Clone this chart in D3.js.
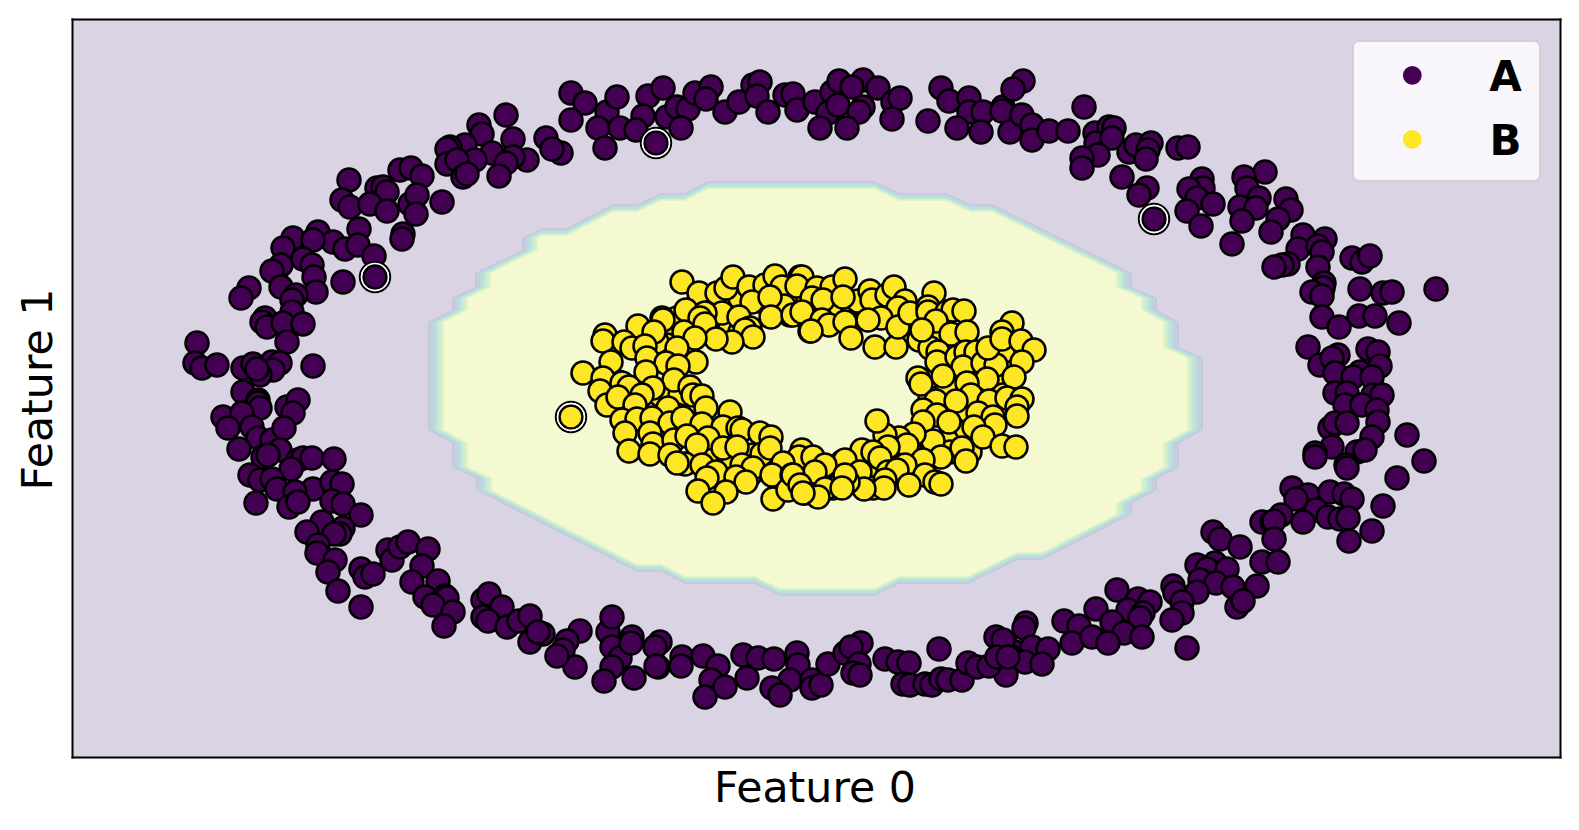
<!DOCTYPE html>
<html><head><meta charset="utf-8">
<style>html,body{margin:0;padding:0;background:#fff}svg{display:block}text{font-family:"DejaVu Sans",sans-serif}</style>
<script src="https://cdn.jsdelivr.net/npm/d3@7"></script></head>
<body><svg id="chart" width="1579" height="830"></svg>
<script>
const xLabel = "Feature 0", yLabel = "Feature 1";
const legendLabels = ["A", "B"];
const classA = [
[-245,295],[-231,285],[-209,276],[-245,268],[-218,260],[-211,240],[-199,291],[-196,260],[-310,273],[-337,263],[-334,254],[-303,249],[-270,250],[-255,235],[-264,239],[-289,228],[-303,231],[-324,235],[-310,225],[-351,243],[-366,241],[-369,239],[-341,228],[-369,224],[-359,228],[-353,211],[-349,214],[-317,212],[-416,218],[-405,220],[-394,212],[-467,208],[-439,200],[-433,201],[-429,196],[-474,188],[-466,181],[-446,184],[-429,177],[-406,184],[-399,193],[-400,174],[-374,186],[-413,154],[-414,149],[-457,159],[-498,156],[-483,146],[-471,139],[-458,143],[-523,150],[-533,140],[-503,148],[-513,129],[-504,123],[-442,132],[-535,123],[-544,117],[-502,111],[-500,96],[-473,106],[-441,111],[-567,100],[-575,90],[-535,101],[-520,93],[-524,88],[-524,76],[-551,70],[-554,66],[-549,61],[-533,65],[-513,64],[-529,46],[-619,45],[-621,25],[-614,20],[-599,23],[-573,20],[-563,24],[-544,26],[-536,25],[-543,18],[-556,13],[-559,19],[-503,22],[-573,-4],[-558,-12],[-529,-19],[-518,-12],
[-168,292],[-153,300],[-173,272],[-180,258],[-160,245],[-149,271],[-139,281],[-128,279],[-135,260],[-121,295],[-105,301],[-110,289],[-91,276],[-77,286],[-63,303],[-56,306],[-59,292],[-48,276],[-31,293],[-23,294],[-19,278],[-1,286],[16,296],[23,307],[47,308],[36,301],[62,300],[12,275],[22,283],[47,281],[43,276],[4,260],[31,260],[77,286],[84,290],[76,269],[112,267],[125,300],[133,287],[153,290],[153,276],[141,260],[167,276],[165,256],[187,281],[186,277],[194,256],
[207,307],[197,299],[206,273],[216,263],[216,248],[233,257],[252,257],[268,281],[279,255],[293,261],[298,260],[280,245],[296,250],[282,233],[266,230],[266,220],[306,211],[313,236],[320,243],[335,245],[332,238],[330,229],[362,240],[372,241],[331,200],[323,193],[338,169],[386,209],[387,200],[373,199],[381,190],[397,184],[371,177],[385,162],[449,216],[428,211],[431,200],[443,190],[424,181],[440,180],[426,167],[470,189],[475,178],[462,169],[455,156],[416,144],[487,153],[509,149],[482,139],[502,142],[506,136],[536,130],[546,126],[554,132],[472,124],[466,123],[458,121],[502,121],[508,105],[507,100],[496,96],[506,92],[544,99],[567,95],[576,96],[620,99],[506,71],[523,61],[543,72],[559,72],[583,65],[492,41],[522,33],[504,23],[516,30],[552,39],[562,36],[519,15],[564,22],[544,16],[537,11],[556,11],[519,-5],[531,-5],[557,-7],[566,-7],
[529,-17],[546,-17],[561,-22],[562,-34],[514,-40],[519,-35],[531,-35],[556,-49],[591,-47],[516,-59],[541,-64],[549,-62],[499,-65],[499,-69],[530,-77],[531,-80],[608,-73],[581,-90],[476,-100],[492,-107],[480,-111],[514,-104],[528,-106],[536,-111],[567,-118],[500,-122],[487,-134],[512,-129],[524,-131],[532,-130],[556,-143],[533,-153],[465,-127],[446,-134],[456,-134],[458,-133],[458,-151],[446,-174],[462,-174],[397,-144],[404,-151],[424,-159],[381,-177],[399,-175],[391,-181],[411,-181],[384,-192],[400,-195],[381,-204],[417,-199],[441,-198],[421,-219],[427,-213],[357,-198],[359,-205],[366,-214],[366,-225],[356,-232],[371,-260],[301,-202],[322,-211],[334,-214],[312,-222],[327,-225],[324,-230],[280,-221],[296,-234],[308,-245],[326,-249],[248,-233],[263,-238],[256,-255],[276,-249],[292,-255],[210,-235],[208,-240],[189,-255],[199,-264],[216,-259],[196,-269],[209,-274],[232,-261],[226,-276],[190,-287],
[-236,-243],[-249,-253],[-253,-262],[-241,-279],[-208,-244],[-204,-229],[-204,-259],[-196,-270],[-204,-279],[-212,-293],[-184,-249],[-185,-255],[-182,-290],[-156,-254],[-161,-259],[-158,-279],[-160,-278],[-134,-269],[-135,-278],[-113,-268],[-98,-278],[-105,-292],[-91,-299],[-111,-309],[-73,-267],[-58,-270],[-42,-271],[-69,-290],[-19,-265],[-18,-277],[-26,-292],[-44,-300],[-36,-307],[-4,-292],[-4,-300],[5,-297],[12,-276],[29,-265],[45,-255],[35,-259],[43,-276],[37,-285],[44,-287],[69,-271],[82,-274],[93,-275],[123,-261],[87,-296],[94,-297],[109,-296],[116,-297],[125,-291],[132,-292],[146,-292],[152,-275],[161,-279],[173,-278],[180,-249],[187,-252],[181,-269],[192,-269],
[-558,-15],[-556,-20],[-593,-29],[-574,-25],[-588,-40],[-564,-39],[-558,-50],[-544,-52],[-523,-25],[-532,-40],[-577,-61],[-536,-62],[-553,-69],[-548,-67],[-518,-72],[-513,-70],[-504,-70],[-525,-81],[-482,-71],[-566,-87],[-556,-92],[-544,-91],[-539,-101],[-503,-101],[-521,-104],[-484,-94],[-474,-96],[-484,-113],[-473,-116],[-527,-119],[-518,-114],[-560,-115],[-455,-127],[-494,-134],[-473,-140],[-476,-146],[-482,-146],[-509,-144],[-498,-157],[-499,-165],[-481,-172],[-488,-184],[-478,-203],[-455,-219],[-455,-181],[-451,-189],[-443,-186],[-428,-162],[-424,-172],[-416,-159],[-408,-154],[-388,-161],[-394,-178],[-404,-194],[-378,-193],[-391,-209],[-371,-208],[-369,-210],[-383,-217],[-363,-224],[-372,-238],[-333,-212],[-327,-206],[-314,-219],[-333,-229],[-328,-233],[-309,-239],[-297,-233],[-286,-228],[-286,-254],[-273,-246],[-278,-244],[-259,-268]
];
const classBHidden = [
[-186,43],[-169,33],[-198,6],[-203,-7],[-189,-17],[-183,-7],[-156,-7],[-136,-7],[-139,-27],[-156,-40],[-119,-44],[-133,-44],[-99,-47],[-84,-37],[-89,-54],[-109,-67],[-86,-80],[-63,-67],[-66,-87],[-39,-80],[-36,-97],[-19,-74],[-106,90],[-86,90],[-76,90],[-53,86],[-59,96],[-33,90],[-123,66],[-126,73],[-106,63],[-86,63],[-76,56],[-26,73],[-16,86],[-146,63],[-139,70],[-133,40],[-149,43],[-169,46],[-159,46],[-183,43],
[-16,90],[17,96],[17,83],[37,80],[47,83],[71,80],[61,83],[94,53],[97,66],[111,63],[127,56],[147,46],[167,33],[131,26],[157,20],[181,10],[187,36],[147,0],[131,0],[161,3],[174,-4],[187,-7],[114,-10],[127,-20],[147,-27],[137,-40],[151,-44],[131,-53],[107,-60],[121,-64],[134,-64],[154,-64],[77,-67],[97,-67],[54,-74],[41,-70],[17,-84],[7,-87],[-13,-80],[-6,-94],[37,-94],[57,-87],[87,-87],[57,-100],[17,-100]
];
const classB = [
[-134,106],[-117,95],[-99,95],[-90,100],[-83,111],[-67,101],[-51,103],[-41,112],[-34,101],[-16,111],[-18,102],[-64,86],[-32,82],[-46,91],[-94,75],[-77,71],[-45,71],[-130,78],[-111,75],[-116,70],[-111,64],[-66,60],[-71,58],[-63,51],[-84,46],[-100,49],[-6,57],[-23,73],[-8,88],[-154,70],[-153,68],[-178,62],[-162,56],[-132,56],[-211,53],[-213,47],[-192,46],[-184,40],[-171,42],[-121,50],[-139,40],[-205,26],[-169,30],[-120,26],[-150,25],[-138,22],[-170,16],[-233,15],[-213,10],[-216,-3],[-194,5],[-187,1],[-142,8],[-163,0],[-174,-7],[-126,1],[-123,-7],[-114,-8],[-209,-17],[-198,-9],[-181,-17],[-148,-20],[-110,-20],[-245,-29],[-194,-32],[-179,-31],[-164,-30],[-146,-35],[-133,-30],[-86,-24],[-191,-45],[-166,-45],[-114,-36],[-93,-39],[-78,-40],[-74,-42],[-56,-45],[-45,-49],[-163,-56],[-142,-52],[-129,-48],[-108,-50],[-187,-63],[-166,-66],[-146,-67],[-119,-57],[-93,-60],[-79,-59],[-54,-66],[-46,-60],[-14,-62],[-17,-69],[-131,-76],[-139,-75],[-114,-77],[-100,-84],[-74,-77],[-63,-80],[-33,-75],[-44,-87],[-24,-87],[-80,-89],[-70,-94],[-109,-90],[-118,-103],[-90,-104],[-103,-115],[-43,-111],[-28,-102],[-11,-105],
[-14,111],[-19,102],[1,100],[16,101],[29,109],[-4,90],[7,88],[-14,76],[6,68],[13,63],[-5,57],[29,66],[35,50],[42,87],[27,91],[54,97],[56,88],[71,93],[78,101],[89,87],[82,80],[65,70],[52,68],[59,41],[80,41],[82,61],[94,75],[118,95],[112,81],[112,76],[131,76],[137,78],[148,77],[120,67],[135,54],[151,56],[103,48],[114,40],[106,58],[122,36],[121,26],[141,31],[150,36],[160,36],[147,21],[167,25],[180,23],[172,40],[196,65],[186,56],[186,49],[205,47],[218,38],[206,26],[198,11],[171,9],[127,12],[102,10],[105,4],[151,5],[155,-7],[173,-13],[191,-10],[206,-11],[201,-19],[201,-28],[120,-13],[140,-13],[107,-22],[121,-27],[162,-25],[177,-29],[179,-37],[158,-39],[133,-34],[107,-34],[167,-49],[117,-53],[98,-46],[83,-50],[69,-47],[61,-33],[186,-58],[200,-59],[146,-60],[150,-73],[125,-69],[91,-57],[72,-59],[46,-62],[57,-64],[64,-70],[107,-72],[89,-77],[26,-74],[29,-72],[-3,-69],[9,-77],[-1,-84],[44,-84],[72,-84],[81,-82],[109,-87],[119,-94],[125,-96],[93,-97],[69,-92],[68,-100],[48,-101],[32,-94],[29,-87],[9,-101],[-23,-87],[-16,-97],[2,-109],[-13,-105],[26,-100]
];
const supportVectors = [[-441,111],[-160,245],[338,169],[-245,-29]];
const boundaryOuter = [[-388,66],[-364,78],[-364,90],[-341,101],[-341,115],[-294,138],[-294,150],[-274,160],[-249,160],[-203,184],[-178,184],[-155,195],[-131,195],[-108,207],[58,207],[83,195],[130,195],[154,184],[176,184],[316,115],[316,101],[341,90],[341,78],[363,66],[363,41],[387,30],[387,-42],[363,-55],[363,-79],[341,-91],[341,-102],[316,-115],[316,-126],[226,-172],[201,-172],[152,-196],[83,-196],[59,-208],[-36,-208],[-61,-196],[-131,-196],[-154,-184],[-179,-184],[-340,-102],[-340,-90],[-364,-79],[-364,-55],[-388,-42]];
const boundaryInner = [[-372,66],[-348,78],[-348,90],[-325,101],[-325,115],[-278,138],[-278,150],[-274,152],[-249,152],[-203,176],[-178,176],[-155,187],[-131,187],[-108,199],[58,199],[83,187],[130,187],[154,176],[176,176],[300,115],[300,101],[325,90],[325,78],[347,66],[347,41],[371,30],[371,-42],[347,-55],[347,-79],[325,-91],[325,-102],[300,-115],[300,-126],[226,-164],[201,-164],[152,-188],[83,-188],[59,-200],[-36,-200],[-61,-188],[-131,-188],[-154,-176],[-179,-176],[-324,-102],[-324,-90],[-348,-79],[-348,-55],[-372,-42]];
const contourStripes = [0.2,0.3,0.42,0.54,0.65,0.75,0.85];
const contourLow = 0.1, contourHigh = 0.92;

const svg = d3.select("#chart");
const x = d3.scaleLinear([-744,744],[72,1560]);
const y = d3.scaleLinear([-369,369],[757,19]);
const onWhite = (t,a) => { const c = d3.rgb(d3.interpolateViridis(t));
  return d3.rgb(255+(c.r-255)*a,255+(c.g-255)*a,255+(c.b-255)*a).formatHex(); };
const classColor = [d3.interpolateViridis(0), d3.interpolateViridis(1)];

svg.append("rect").attr("x",x(-744)).attr("y",y(369)).attr("width",x(744)-x(-744)).attr("height",y(-369)-y(369)).attr("fill",onWhite(contourLow,.2));
const line = d3.line().x(d=>x(d[0])).y(d=>y(d[1])).curve(d3.curveLinearClosed);
const bands = contourStripes.map(t=>onWhite(t,.3)).concat([onWhite(contourHigh,.2)]);
bands.forEach((color,k)=>{
  const f = k/(bands.length-1);
  const ring = boundaryOuter.map((p,i)=>[p[0]+(boundaryInner[i][0]-p[0])*f, p[1]+(boundaryInner[i][1]-p[1])*f]);
  svg.append("path").attr("d",line(ring)).attr("fill",color).attr("shape-rendering","crispEdges");
});

const drawPoints = (data,color)=>svg.append("g").selectAll("circle").data(data).join("circle")
  .attr("cx",d=>x(d[0])).attr("cy",d=>y(d[1])).attr("r",11.5).attr("fill",color).attr("stroke","#000").attr("stroke-width",2.5);
drawPoints(classA,classColor[0]);
drawPoints(classBHidden,classColor[1]);
drawPoints(classB,classColor[1]);

const sv = svg.append("g").selectAll("g").data(supportVectors).join("g");
sv.append("circle").attr("cx",d=>x(d[0])).attr("cy",d=>y(d[1])).attr("r",15.2).attr("fill","none").attr("stroke","#000").attr("stroke-width",2);
sv.append("circle").attr("cx",d=>x(d[0])).attr("cy",d=>y(d[1])).attr("r",13.5).attr("fill","none").attr("stroke","#fff").attr("stroke-width",1.4);

const frame = [[d3.axisBottom(x),0,757],[d3.axisTop(x),0,19],[d3.axisLeft(y),72,0],[d3.axisRight(y),1560,0]];
frame.forEach(([a,tx,ty])=>{
  const g = svg.append("g").attr("transform",`translate(${tx},${ty})`).call(a.tickValues([]).tickSizeOuter(0));
  g.select(".domain").attr("stroke","#000").attr("stroke-width",2).attr("stroke-linecap","square");
});

svg.append("text").attr("x",815).attr("y",802).attr("text-anchor","middle").attr("font-size",42.7).attr("fill","#000").text(xLabel);
svg.append("text").attr("transform","translate(52,389.5) rotate(-90)").attr("text-anchor","middle").attr("font-size",42.7).attr("fill","#000").text(yLabel);

const lg = svg.append("g");
lg.append("rect").attr("x",1353).attr("y",41).attr("width",187).attr("height",140).attr("rx",6).attr("fill","#fff").attr("fill-opacity",.8).attr("stroke","#ccc").attr("stroke-opacity",.8).attr("stroke-width",2);
legendLabels.forEach((l,i)=>{
  const yy = d3.scaleOrdinal(legendLabels,[75.3,139.3])(l);
  lg.append("circle").attr("cx",1412.3).attr("cy",yy).attr("r",9.4).attr("fill",classColor[i]);
  lg.append("text").attr("x",1505.5).attr("y",yy+15.5).attr("text-anchor","middle").attr("font-size",42).attr("font-weight","bold").attr("fill","#000").text(l);
});
</script></body></html>
